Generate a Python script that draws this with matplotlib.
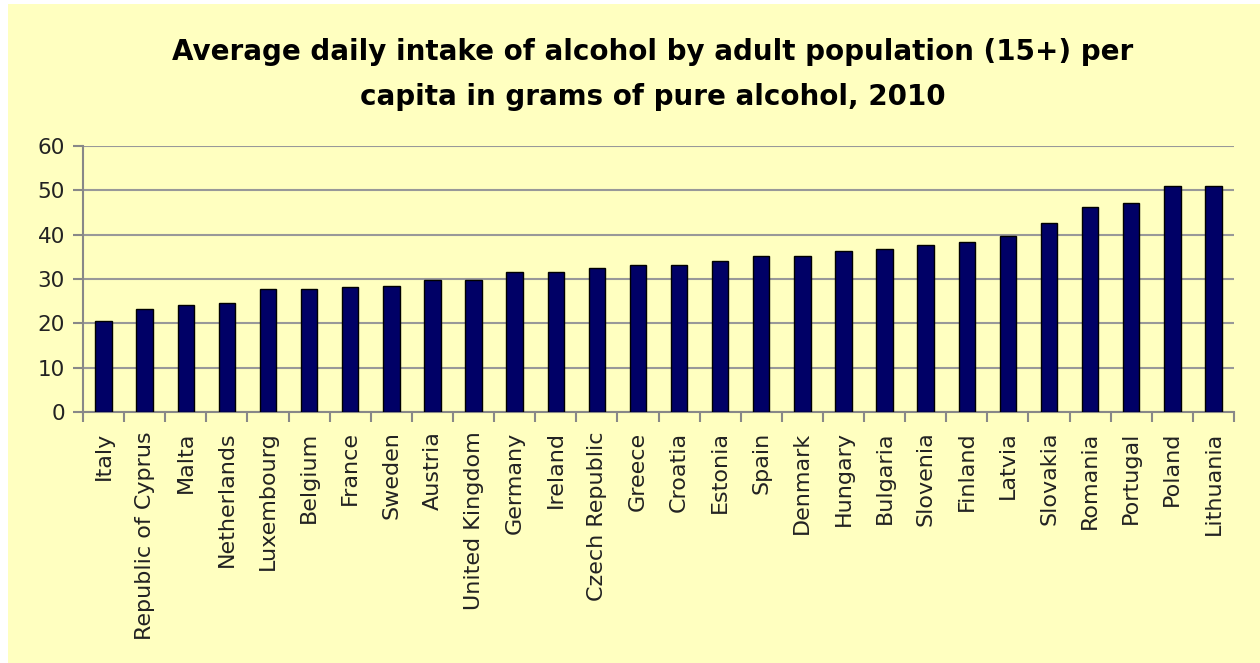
import matplotlib
matplotlib.use("Agg")
import matplotlib.pyplot as plt
from matplotlib.patches import Rectangle

countries = ["Italy", "Republic of Cyprus", "Malta", "Netherlands", "Luxembourg",
             "Belgium", "France", "Sweden", "Austria", "United Kingdom", "Germany",
             "Ireland", "Czech Republic", "Greece", "Croatia", "Estonia", "Spain",
             "Denmark", "Hungary", "Bulgaria", "Slovenia", "Finland", "Latvia",
             "Slovakia", "Romania", "Portugal", "Poland", "Lithuania"]
values = [20.6, 23.3, 24.2, 24.5, 27.7, 27.7, 28.1, 28.5, 29.7, 29.7, 31.6,
          31.6, 32.5, 33.2, 33.2, 34.0, 35.2, 35.2, 36.4, 36.8, 37.6, 38.3,
          39.6, 42.7, 46.3, 47.1, 51.0, 51.0]
yticks = [0, 10, 20, 30, 40, 50, 60]
title_lines = ["Average daily intake of alcohol by adult population (15+) per",
               "capita in grams of pure alcohol, 2010"]

bg = "#FFFFC0"
fig = plt.figure(figsize=(12.6, 6.63), dpi=100)
fig.patch.set_facecolor("white")
fig.patches.append(Rectangle((8/1260, 0), 1 - 8/1260, 1 - 4/663,
                             transform=fig.transFigure, facecolor=bg,
                             edgecolor="none", zorder=-10))

ax = fig.add_axes([83/1260, 1 - 412/663, (1234 - 83)/1260, (412 - 146)/663])
ax.set_facecolor("none")
x = list(range(len(countries)))
ax.bar(x, values, width=0.4, color="#000066", edgecolor="black", linewidth=1, zorder=3)
ax.set_xlim(-0.5, len(countries) - 0.5)
ax.set_ylim(0, 60)
ax.set_yticks(yticks)
ax.set_yticklabels([str(v) for v in yticks], fontsize=15.5, color="#222222")
ax.set_xticks([i - 0.5 for i in range(len(countries) + 1)], minor=False)
ax.set_xticklabels([""] * (len(countries) + 1))
ax.set_xticks(x, minor=True)
ax.set_xticklabels(countries, minor=True, rotation=90, fontsize=16, color="#222222")
ax.tick_params(axis="x", which="minor", length=0, pad=14)
ax.tick_params(axis="x", which="major", length=7, color="#888888", width=1.5)
ax.tick_params(axis="y", length=7, color="#888888", width=1.5, pad=6)
ax.grid(axis="y", color="#999999", linewidth=1.5, zorder=0)
for s in ["top", "right"]:
    ax.spines[s].set_visible(False)
for s in ["left", "bottom"]:
    ax.spines[s].set_color("#888888")
    ax.spines[s].set_linewidth(1.5)

for line, yc in zip(title_lines, [52, 97]):
    fig.text(653/1260, 1 - yc/663, line, ha="center", va="center",
             fontsize=20, fontweight="bold")

fig.savefig("out.png", dpi=100)
